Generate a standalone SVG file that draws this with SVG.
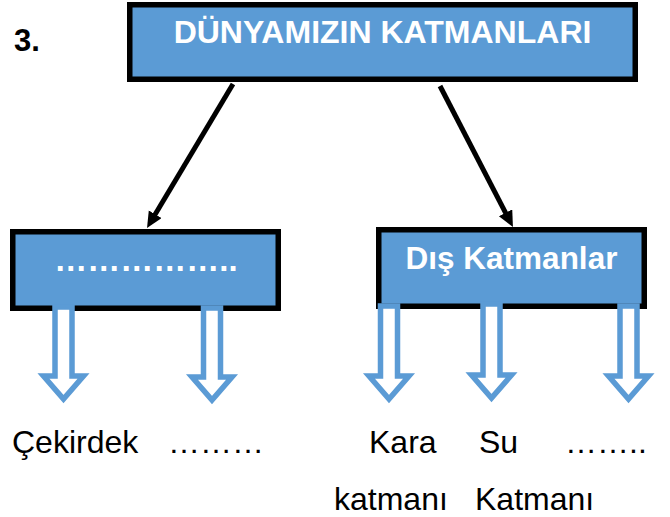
<svg xmlns="http://www.w3.org/2000/svg" width="670" height="517" viewBox="0 0 670 517">
<style>
.box{fill:#5B9BD5;stroke:#000;stroke-width:5.5}
.bt{font-family:"Liberation Sans",Arial,sans-serif;font-weight:bold;fill:#fff;font-size:31.5px;text-anchor:middle}
.lb{font-family:"Liberation Sans",Arial,sans-serif;fill:#000;font-size:32px}
.ha{fill:#fff;stroke:#5B9BD5;stroke-width:5.5;stroke-linejoin:miter}
.ln{stroke:#000;stroke-width:5;fill:none}
</style>
<defs>
<marker id="ah" markerUnits="userSpaceOnUse" markerWidth="16" markerHeight="16" refX="2" refY="7.5" orient="auto">
<path d="M0,0 L16,7.5 L0,15 z" fill="#000"/>
</marker>
</defs>
<rect width="670" height="517" fill="#fff"/>
<text x="14" y="51" font-family="Liberation Sans,Arial,sans-serif" font-weight="bold" font-size="31px" fill="#000">3.</text>
<g id="root">
<rect class="box" x="129.75" y="4.75" width="505.5" height="74.5"/>
<text class="bt" x="382.5" y="43" style="font-size:32px">DÜNYAMIZIN KATMANLARI</text>
</g>
<g id="connectors">
<line class="ln" x1="233" y1="84" x2="154.2" y2="216" marker-end="url(#ah)"/>
<line class="ln" x1="440" y1="86" x2="506.5" y2="214.6" marker-end="url(#ah)"/>
</g>
<g id="ic">
<rect class="box" x="12.75" y="231.75" width="265.5" height="76.5"/>
<text class="bt" x="146" y="271" style="font-size:33px">……………..</text>
</g>
<g id="dis">
<rect class="box" x="378.75" y="229.75" width="265.5" height="76.5"/>
<text class="bt" x="511.5" y="269">Dış Katmanlar</text>
</g>
<g id="hollow-arrows">
<polygon class="ha" points="55,307 72,307 72,376 83.5,376 63.5,399 43.5,376 55,376"/>
<polygon class="ha" points="203.5,308 220.5,308 220.5,377 232,377 212,400 192,377 203.5,377"/>
<polygon class="ha" points="380.5,306 397.5,306 397.5,376 409,376 389,399 369,376 380.5,376"/>
<polygon class="ha" points="483,304 500,304 500,375 511.5,375 491.5,398 471.5,375 483,375"/>
<polygon class="ha" points="620,306 637,306 637,376 648.5,376 628.5,399 608.5,376 620,376"/>
</g>
<g id="labels">
<text class="lb" x="12" y="453">Çekirdek</text>
<text class="lb" x="168" y="453">………</text>
<text class="lb" x="369" y="453">Kara</text>
<text class="lb" x="479" y="453">Su</text>
<text class="lb" x="565" y="453">……..</text>
<text class="lb" x="334" y="510">katmanı</text>
<text class="lb" x="475" y="510">Katmanı</text>
</g>
</svg>
